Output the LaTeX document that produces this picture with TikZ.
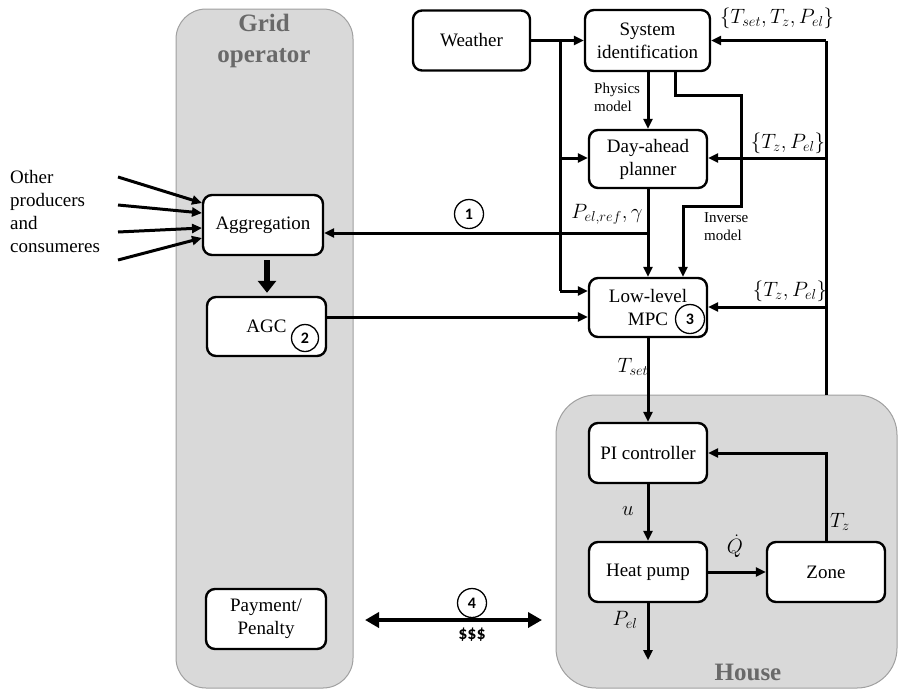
\documentclass[tikz,border=0pt]{standalone}
\usepackage{fontspec}
\setmainfont{Liberation Serif}
\newfontfamily\numfont{Carlito}
\usetikzlibrary{arrows.meta,calc}
\definecolor{panelgray}{RGB}{217,217,217}
\definecolor{panelborder}{RGB}{160,160,160}
\definecolor{titlegray}{RGB}{105,105,105}
\begin{document}
\begin{tikzpicture}[x=1pt,y=-1pt,
 panel/.style={fill=panelgray, draw=panelborder, line width=1pt},
 box/.style={draw, line width=2.4pt, rounded corners=9pt, fill=white, align=center, font=\fontsize{19}{23}\selectfont, inner sep=0pt},
 conn/.style={line width=3pt, -{Triangle[length=10pt,width=9pt]}},
 plain/.style={line width=3pt},
 lbl/.style={font=\fontsize{20.5}{22}\selectfont, inner sep=0pt},
 small/.style={font=\fontsize{15}{18}\selectfont, align=left, inner sep=0pt, anchor=west},
 num/.style={circle, draw, line width=1.3pt, minimum size=29pt, inner sep=0pt, font=\numfont\bfseries\fontsize{16}{16}\selectfont},
 title/.style={font=\bfseries\fontsize{25}{31}\selectfont, text=titlegray, align=center, inner sep=0pt},
 plaintext/.style={font=\fontsize{19}{23}\selectfont, align=left, inner sep=0pt}
]
\useasboundingbox (0,0) rectangle (899,691);

% panels
\draw[panel, rounded corners=30pt] (176,9) rectangle (353,688);
\draw[panel, rounded corners=40pt] (556,395) rectangle (897,688);
\node[title] (gridtitle) at (264,41) {Grid\\operator};
\node[title] (housetitle) at (748,672) {House};

% boxes
\node[box, minimum width=117pt, minimum height=60pt] (weather) at (471.5,40.5) {Weather};
\node[box, minimum width=125pt, minimum height=61pt] (sysid) at (647.5,40.5) {System\\identification};
\node[box, minimum width=118pt, minimum height=58pt] (dap) at (648,159) {Day-ahead\\planner};
\node[box, minimum width=118pt, minimum height=59pt] (mpc) at (648,307.5) {Low-level\\MPC};
\node[box, minimum width=120pt, minimum height=60pt] (agg) at (263,225) {Aggregation};
\node[box, minimum width=119pt, minimum height=59pt] (agc) at (266.5,326.5) {AGC};
\node[box, minimum width=120pt, minimum height=60pt] (pay) at (266,619) {Payment/\\Penalty};
\node[box, minimum width=118pt, minimum height=60pt] (pi) at (648,453) {PI controller};
\node[box, minimum width=118pt, minimum height=60pt] (hp) at (648,572) {Heat pump};
\node[box, minimum width=118pt, minimum height=60pt] (zone) at (826,572) {Zone};

% numbered circles
\node[num] (n1) at (469,214) {1};
\node[num, minimum size=27pt] (n2) at (305,338) {2};
\node[num] (n3) at (690,319) {3};
\node[num] (n4) at (472,603) {4};
\node[font=\numfont\bfseries\fontsize{18}{18}\selectfont, inner sep=0pt] (money) at (472,635) {\$\$\$};

% weather distribution
\draw[conn] (weather.east) -- (sysid.west);
\coordinate (wj) at (560,40.5);
\coordinate (wd) at (560,158);
\coordinate (wm) at (560,291);
\draw[plain] (wj) -- (wm);
\draw[conn] (wd) -- (wd -| dap.west);
\draw[conn] (wm) -- (wm -| mpc.west);

% physics model
\draw[conn] (sysid.south -| dap.north) -- (dap.north);
\node[small] (phys) at (594,97) {Physics\\model};

% inverse model
\coordinate (ia) at (675,95);
\coordinate (ib) at (741,95);
\coordinate (ic) at (741,206);
\coordinate (id) at (683,206);
\draw[conn] (sysid.south -| ia) -- (ia) -- (ib) -- (ic) -- (id) -- (mpc.north -| id);
\node[small] (inv) at (704,227) {Inverse\\model};

% day-ahead to MPC and to aggregation
\draw[conn] (dap.south) -- (mpc.north);
\coordinate (p1) at (648,233);
\draw[conn] (p1) -- (p1 -| agg.east);
\node[lbl] (pref) at (607,214) {$P_{el,ref},\gamma$};

% AGC to MPC
\coordinate (a1) at (326,317);
\draw[conn] (agc.east |- a1) -- (a1 -| mpc.west);

% aggregation to AGC
\draw[line width=5.5pt, -{Triangle[length=12pt,width=18pt]}] ($(agg.south)+(4,4)$) -- ($(agc.north)+(0.5,-3)$);

% other producers
\node[plaintext, anchor=north west] (others) at (10,170) {Other\\producers\\and\\consumeres};
\coordinate (o1) at (118,177); \coordinate (e1) at (202,203);
\coordinate (o2) at (118,205); \coordinate (e2) at (202,213);
\coordinate (o3) at (118,232); \coordinate (e3) at (202,228);
\coordinate (o4) at (118,260); \coordinate (e4) at (202,238);
\draw[conn] (o1) -- (e1);
\draw[conn] (o2) -- (e2);
\draw[conn] (o3) -- (e3);
\draw[conn] (o4) -- (e4);

% house internals
\draw[conn] (mpc.south) -- (pi.north);
\node[lbl] (tset) at (633,367) {$T_{set}$};
\draw[conn] (pi.south) -- (hp.north);
\node[lbl] (ulbl) at (628,511) {$u$};
\draw[conn] (hp.east) -- (zone.west);
\node[lbl] (qlbl) at (735,546) {$\dot{Q}$};
\draw[conn] (zone.north) |- (pi.east);
\node[lbl] (tzlbl) at (840,522) {$T_z$};
\coordinate (pelout) at (648,660);
\draw[conn] (hp.south) -- (pelout);
\node[lbl] (pellbl) at (625,620) {$P_{el}$};

% feedback
\coordinate (fb0) at (826,395);
\coordinate (fb1) at (826,40.5);
\coordinate (fb2) at (826,158);
\coordinate (fb3) at (826,307);
\draw[plain] (fb0) -- (fb1);
\draw[conn] (fb1) -- (sysid.east |- fb1);
\draw[conn] (fb2) -- (dap.east |- fb2);
\draw[conn] (fb3) -- (mpc.east |- fb3);
\node[lbl] (fbl1) at (777,18) {$\{T_{set},T_z,P_{el}\}$};
\node[lbl] (fbl2) at (788,143) {$\{T_z,P_{el}\}$};
\node[lbl] (fbl3) at (790,291) {$\{T_z,P_{el}\}$};

% payment arrow
\coordinate (d1) at (365,620);
\coordinate (d2) at (542,620);
\draw[line width=4.5pt, {Triangle[length=14pt,width=15pt]}-{Triangle[length=14pt,width=15pt]}] (d1) -- (d2);
\end{tikzpicture}
\end{document}
